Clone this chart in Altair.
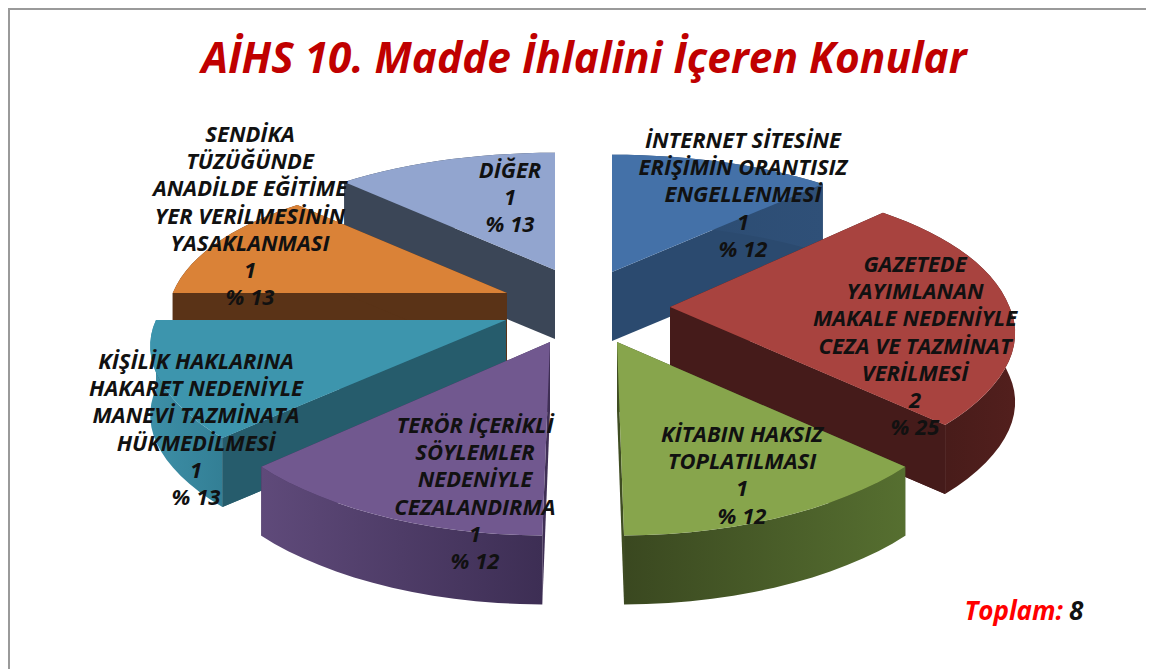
import math
import altair as alt
import pandas as pd

# --- data ---
CATEGORIES = ["İNTERNET SİTESİNE\nERİŞİMİN ORANTISIZ\nENGELLENMESİ",
              "GAZETEDE\nYAYIMLANAN\nMAKALE NEDENİYLE\nCEZA VE TAZMİNAT\nVERİLMESİ",
              "KİTABIN HAKSIZ\nTOPLATILMASI",
              "TERÖR İÇERİKLİ\nSÖYLEMLER\nNEDENİYLE\nCEZALANDIRMA",
              "KİŞİLİK HAKLARINA\nHAKARET NEDENİYLE\nMANEVİ TAZMİNATA\nHÜKMEDİLMESİ",
              "SENDİKA\nTÜZÜĞÜNDE\nANADİLDE EĞİTİME\nYER VERİLMESİNİN\nYASAKLANMASI",
              "DİĞER"]
VALUES = [1, 2, 1, 1, 1, 1, 1]
PERCENTS = [12, 25, 12, 12, 13, 13, 13]
TITLE = "AİHS 10. Madde İhlalini İçeren Konular"
TOTAL_LABEL = "Toplam:"
TOTAL = sum(VALUES)

# --- layout and style (not data) ---
APEX = [(612, 272), (670, 307), (617, 342), (550, 342), (506, 320), (507, 293), (555, 270)]
TOP = ["#4471a8", "#a8433f", "#87a54c", "#71588f", "#3d95ad", "#da8237", "#92a5cf"]
RADIAL = ["#2b4a6f", "#451b1a", "#3f4d22", "#3f2f55", "#265c6c", "#5a3317", "#3b4657"]
OUTER = [("#2b4a6f", "#2f5078"), ("#3f1917", "#521f1d"), ("#3a4820", "#566f30"),
         ("#5f4a7a", "#3d2e54"), ("#3d8fa7", "#337f95"), ("#5a3317", "#5a3317"), ("#3b4657", "#3b4657")]
DRAW_ORDER = [0, 6, 5, 1, 4, 2, 3]
LABEL_POS = [(743, 141), (915, 265), (742, 435), (475, 426), (196, 362), (250, 135), (510, 171)]
X_STRETCH = [0.96, 0.97, 1, 1, 1, 0.955, 0.96]
Y_FRONT = [1, 0.945, 1, 1, 0.945, 1, 1]
Y_BACK = [1, 1.07, 1, 1, 1, 1, 1]
CONVERGE = [0, 0, 1, 1, 0, 0, 0]
LINE_STEP = 27.2
RX, RY, KX, KY, DEPTH = 350, 146, 0.18, 0.245, 69
VANISH_X = 585
FONT = "Open Sans"

W, H = 1138, 661
xs = alt.Scale(domain=[8, 8 + W], range=[0, W])
ys = alt.Scale(domain=[8, 8 + H], range=[0, H])
X = alt.X("x:Q", scale=xs, axis=None)
Y = alt.Y("y:Q", scale=ys, axis=None)


def project(k, deg, drop=0.0):
    apex = APEX[k]
    t = math.radians(deg)
    u, v = math.sin(t), math.cos(t)
    sx, sy = 1 / (1 + KX * v), 1 / (1 + KY * v)
    shift = (apex[0] - VANISH_X) * max(sx - 1, 0) * CONVERGE[k]
    ysc = Y_BACK[k] if v > 0 else Y_FRONT[k]
    return apex[0] + shift + RX * X_STRETCH[k] * u * sx, apex[1] - RY * ysc * v * sy + drop


def polygon(points, fill):
    df = pd.DataFrame({"x": [p[0] for p in points], "y": [p[1] for p in points],
                       "i": range(len(points))})
    return alt.Chart(df).mark_line(fill=fill, strokeWidth=0, strokeOpacity=0, clip=False).encode(
        x=X, y=Y, order=alt.Order("i:Q"))


def hgrad(c0, c1):
    return alt.Gradient(gradient="linear", x1=0, x2=1, y1=0, y2=0,
                        stops=[alt.GradientStop(color=c0, offset=0), alt.GradientStop(color=c1, offset=1)])


starts, cum = [], 0
for v in VALUES:
    starts.append(cum / TOTAL * 360)
    cum += v

layers = []
frame = pd.DataFrame({"x": [1146, 9, 9], "y": [9, 9, 669], "i": [0, 1, 2]})
layers.append(alt.Chart(frame).mark_line(color="#9a9a9a", strokeWidth=2).encode(x=X, y=Y, order=alt.Order("i:Q")))

for k in DRAW_ORDER:
    a0 = starts[k]
    a1 = a0 + VALUES[k] / TOTAL * 360
    apex = APEX[k]
    n = int((a1 - a0) / 3)
    angs = [a0 + (a1 - a0) * j / n for j in range(n + 1)]
    top_arc = [project(k, a) for a in angs]
    low_arc = [project(k, a, drop=DEPTH) for a in angs]
    low_apex = (apex[0], apex[1] + DEPTH)
    start_wall = polygon([apex, top_arc[0], low_arc[0], low_apex], RADIAL[k])
    end_wall = polygon([apex, top_arc[-1], low_arc[-1], low_apex], RADIAL[k])
    layers += [start_wall, end_wall, polygon(top_arc + low_arc[::-1], hgrad(*OUTER[k]))]
    if k == 1:
        layers.append(end_wall)
    if k == 4:
        layers.append(start_wall)
    layers.append(polygon([apex] + top_arc, TOP[k]))

rows = []
for k, c in enumerate(CATEGORIES):
    lines = c.split("\n") + [str(VALUES[k]), f"% {PERCENTS[k]}"]
    for j, line in enumerate(lines):
        rows.append({"x": LABEL_POS[k][0], "y": LABEL_POS[k][1] + j * LINE_STEP, "t": line})
layers.append(alt.Chart(pd.DataFrame(rows)).mark_text(
    font=FONT, fontStyle="italic", fontWeight="bold", fontSize=22, color="#111111", align="center", baseline="middle"
).encode(x=X, y=Y, text="t:N"))

layers.append(alt.Chart(pd.DataFrame({"x": [584], "y": [60], "t": [TITLE]})).mark_text(
    font=FONT, fontStyle="italic", fontWeight="bold", fontSize=42.4, color="#c00000", align="center", baseline="middle"
).encode(x=X, y=Y, text="t:N"))
layers.append(alt.Chart(pd.DataFrame({"x": [1063], "y": [612], "t": [TOTAL_LABEL]})).mark_text(
    font=FONT, fontStyle="italic", fontWeight="bold", fontSize=26, color="#ff0000", align="right", baseline="middle"
).encode(x=X, y=Y, text="t:N"))
layers.append(alt.Chart(pd.DataFrame({"x": [1069], "y": [612], "t": [str(TOTAL)]})).mark_text(
    font=FONT, fontStyle="italic", fontWeight="bold", fontSize=26, color="#111111", align="left", baseline="middle"
).encode(x=X, y=Y, text="t:N"))

chart = alt.layer(*layers).properties(width=W, height=H, padding=0, autosize=alt.AutoSizeParams(type="none"),
                                      background="white").configure_view(stroke=None)
chart.save("out.html", embed_options={"renderer": "svg", "actions": False})
